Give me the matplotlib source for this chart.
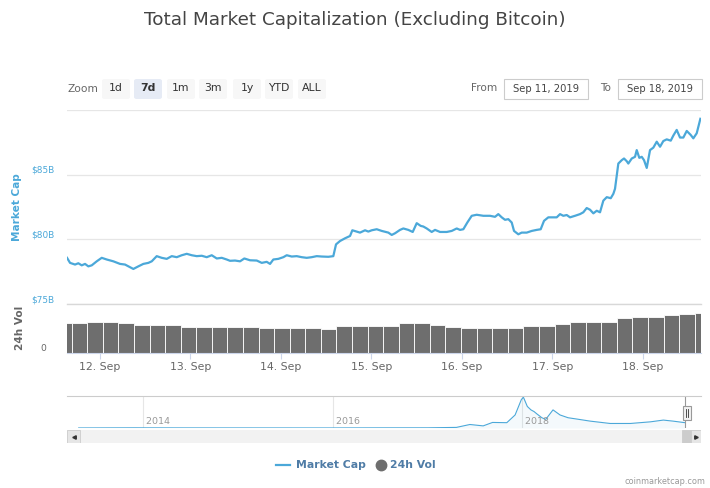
import numpy as np
import pandas as pd
import matplotlib
matplotlib.use('Agg')
import matplotlib.pyplot as plt
import matplotlib.dates as mdates
import matplotlib.transforms as mtransforms
from matplotlib.patches import Rectangle, FancyBboxPatch
from matplotlib.lines import Line2D

# ---- data -----------------------------------------------------------------
# market cap (excl. BTC), hours after 2019-09-12 00:00, in $B
cap_hours = [-8.76, -7.96, -6.63, -5.76, -4.86, -3.98, -3.10, -2.20, -0.88, 0.45,
             1.78, 3.53, 5.31, 6.63, 7.96, 8.84, 10.16, 11.49, 12.82, 13.72,
             15.04, 16.37, 17.70, 19.03, 20.35, 21.68, 23.01, 24.33, 25.66, 26.99,
             28.31, 29.64, 30.97, 32.29, 33.62, 34.49, 35.82, 37.15, 38.29, 39.80,
             41.58, 42.91, 44.23, 45.11, 45.98, 47.31, 48.64, 49.54, 50.87, 52.19,
             53.52, 54.85, 56.17, 57.50, 58.83, 60.58, 61.90, 62.62, 63.68, 65.01,
             66.34, 66.95, 68.11, 68.99, 70.32, 71.19, 72.09, 73.42, 74.75, 76.50,
             77.40, 78.28, 79.60, 80.48, 81.80, 82.97, 84.03, 85.09, 85.79, 86.69,
             88.01, 88.89, 90.22, 91.99, 93.32, 94.65, 95.52, 96.40, 97.46, 98.63,
             99.95, 101.71, 103.48, 104.81, 105.68, 106.59, 107.46, 108.34, 109.24, 109.85,
             110.99, 111.89, 113.22, 114.55, 115.87, 116.93, 117.81, 118.95, 120.28, 121.18,
             122.06, 122.93, 123.84, 124.71, 126.04, 127.36, 128.24, 129.14, 130.02, 130.90,
             131.80, 132.67, 133.55, 134.46, 135.52, 136.21, 136.65, 137.53, 138.43, 139.04,
             139.76, 140.18, 141.09, 141.96, 142.41, 143.10, 143.74, 144.35, 145.07, 145.94,
             146.82, 147.72, 148.60, 149.47, 150.37, 151.44, 152.12, 153.02, 153.90, 154.78,
             155.68, 156.74, 157.43, 158.33, 159.30]
cap_values = [78.57, 78.18, 78.05, 78.15, 77.99, 78.10, 77.91, 77.99, 78.30, 78.57,
              78.44, 78.30, 78.10, 78.05, 77.84, 77.71, 77.91, 78.10, 78.18, 78.30,
              78.70, 78.57, 78.49, 78.70, 78.62, 78.77, 78.88, 78.77, 78.70, 78.73,
              78.62, 78.77, 78.52, 78.57, 78.44, 78.34, 78.36, 78.30, 78.52, 78.38,
              78.36, 78.18, 78.26, 78.10, 78.44, 78.49, 78.62, 78.77, 78.67, 78.70,
              78.62, 78.57, 78.62, 78.70, 78.67, 78.65, 78.70, 79.61, 79.87, 80.08,
              80.26, 80.70, 80.60, 80.52, 80.70, 80.60, 80.70, 80.78, 80.65, 80.52,
              80.34, 80.47, 80.73, 80.84, 80.73, 80.57, 81.25, 81.04, 80.99, 80.84,
              80.57, 80.73, 80.57, 80.57, 80.65, 80.84, 80.73, 80.78, 81.30, 81.82,
              81.90, 81.82, 81.82, 81.74, 81.95, 81.70, 81.51, 81.56, 81.30, 80.65,
              80.39, 80.52, 80.52, 80.65, 80.73, 80.78, 81.43, 81.70, 81.70, 81.70,
              81.95, 81.82, 81.88, 81.70, 81.82, 81.95, 82.09, 82.42, 82.29, 82.01,
              82.21, 82.09, 82.99, 83.26, 83.18, 83.52, 83.91, 85.86, 86.12, 86.25,
              86.04, 85.86, 86.25, 86.38, 86.90, 86.30, 86.38, 86.12, 85.52, 86.90,
              87.09, 87.55, 87.16, 87.60, 87.73, 87.63, 88.02, 88.46, 87.87, 87.87,
              88.38, 88.07, 87.81, 88.20, 89.32]

# 24h volume, grouped bars, in $B
vol_start = pd.date_range('2019-09-11 12:20', periods=42, freq='248min')
vol_values = [49.5, 49.5, 51.1, 51.1, 49.5, 45.7, 45.7, 45.7, 42.9, 42.9,
              42.9, 42.9, 42.4, 41.3, 41.3, 41.3, 41.3, 39.2, 44.1, 44.6,
              44.6, 44.6, 48.5, 49.5, 45.7, 42.9, 41.3, 41.3, 41.3, 41.3,
              44.6, 44.6, 47.3, 51.1, 51.1, 51.1, 56.7, 58.3, 59.3, 62.0,
              63.2, 64.8]

# navigator: full-history market cap (excl. BTC), $B
nav_dates = ['2013-04-28', '2013-12-01', '2014-01-15', '2014-06-01', '2015-01-01',
             '2016-01-01', '2016-07-01', '2017-01-01', '2017-04-22', '2017-06-13',
             '2017-08-03', '2017-09-08', '2017-11-02', '2017-12-04', '2017-12-28',
             '2018-01-05', '2018-01-20', '2018-02-03', '2018-02-15', '2018-02-26',
             '2018-03-17', '2018-04-01', '2018-04-29', '2018-05-26', '2018-06-26',
             '2018-07-30', '2018-09-19', '2018-12-05', '2019-02-21', '2019-05-09',
             '2019-06-28', '2019-08-04', '2019-09-18']
nav_values = [1.0, 3.0, 2.5, 1.8, 1.5,
              1.0, 2.5, 3.0, 10.0, 58.0,
              35.0, 92.0, 88.0, 216.0, 470.0,
              510.0, 357.0, 300.0, 272.0, 233.0,
              170.0, 143.0, 300.0, 216.0, 170.0,
              148.0, 114.0, 75.0, 75.0, 102.0,
              131.0, 114.0, 89.0]

zoom_buttons = ['1d', '7d', '1m', '3m', '1y', 'YTD', 'ALL']
date_from, date_to = 'Sep 11, 2019', 'Sep 18, 2019'

# ---- style ----------------------------------------------------------------
LINE = '#4ba8d9'
VOLC = '#6e6e6e'
GRID = '#e6e6e6'
plt.rcParams['font.family'] = ['DejaVu Sans']

W, H = 710, 488


def fbox(x0, y0, x1, y1):
    # pixel box (top-left origin) -> figure fraction rect
    return [x0 / W, 1 - y1 / H, (x1 - x0) / W, (y1 - y0) / H]


def fx(x):
    return x / W


def fy(y):
    return 1 - y / H


fig = plt.figure(figsize=(W / 100, H / 100), dpi=100)

base = pd.Timestamp('2019-09-12')
t_cap = base + pd.to_timedelta(cap_hours, unit='h')
xlim = (pd.Timestamp('2019-09-11 15:14'), pd.Timestamp('2019-09-18 15:28'))

# ---- market cap panel -----------------------------------------------------
ax = fig.add_axes(fbox(67, 110, 701, 304))
ax.plot(t_cap, cap_values, color=LINE, lw=1.6, solid_joinstyle='round')
ax.set_xlim(*xlim)
ax.set_ylim(75, 90)
ax.set_yticks([75, 80, 85, 90])
ax.set_yticklabels(['$75B', '$80B', '$85B', ''])
ax.grid(axis='y', color=GRID, lw=0.9)
ax.axhline(75, color='#d8d8d8', lw=1.0, clip_on=False, zorder=0)
ax.set_axisbelow(True)
ax.tick_params(axis='y', length=0, pad=9, labelsize=6.4, labelcolor=LINE)
for lab in ax.get_yticklabels():
    lab.set_verticalalignment('bottom')
ax.tick_params(axis='x', bottom=False, labelbottom=False)
for s in ax.spines.values():
    s.set_visible(False)

# ---- volume panel ---------------------------------------------------------
axv = fig.add_axes(fbox(67, 304, 701, 353))
axv.bar(vol_start, vol_values, width=248 / 1440, align='edge', color=VOLC,
        edgecolor='white', linewidth=0.6)
axv.set_xlim(*xlim)
axv.set_ylim(0, 80)
axv.set_yticks([0])
axv.set_yticklabels(['0'])
axv.tick_params(axis='y', length=0, pad=15, labelsize=6.6, labelcolor='#666666')
for lab in axv.get_yticklabels():
    lab.set_verticalalignment('bottom')
axv.xaxis.set_major_locator(mdates.DayLocator())
axv.xaxis.set_major_formatter(mdates.DateFormatter('%d. %b'))
axv.tick_params(axis='x', length=4, width=0.8, color='#ccd6eb', pad=2.5,
                labelsize=7.8, labelcolor='#666666')
for s in ['top', 'left', 'right']:
    axv.spines[s].set_visible(False)
axv.spines['bottom'].set_color('#ccd6eb')
axv.patch.set_alpha(0)

fig.text(fx(17), fy(207), 'Market Cap', rotation=90, ha='center', va='center',
         color=LINE, fontsize=7.6, fontweight='bold')
fig.text(fx(20), fy(328), '24h Vol', rotation=90, ha='center', va='center',
         color='#666666', fontsize=7.6, fontweight='bold')

# ---- navigator ------------------------------------------------------------
axn = fig.add_axes(fbox(67, 396, 701, 428))
nd = pd.to_datetime(nav_dates)
axn.fill_between(nd, nav_values, 0, color=LINE, alpha=0.06, lw=0)
axn.plot(nd, nav_values, color=LINE, lw=0.8)
axn.set_xlim(pd.Timestamp('2013-03-14'), pd.Timestamp('2019-11-20'))
axn.set_ylim(0, 530)
axn.set_xticks([])
axn.set_yticks([])
for s in ['left', 'right', 'bottom']:
    axn.spines[s].set_visible(False)
axn.spines['top'].set_color('#cccccc')
blend = mtransforms.blended_transform_factory(axn.transData, axn.transAxes)
for yr in ['2014', '2016', '2018']:
    d = pd.Timestamp(f'{yr}-01-01')
    axn.axvline(d, color=GRID, lw=0.8, zorder=0)
    axn.text(d, 0.05, ' ' + yr, transform=blend, ha='left', va='bottom',
             fontsize=6.8, color='#999999')
axn.axvline(pd.Timestamp('2019-09-18'), color='#999999', lw=0.8)
fig.add_artist(Rectangle((fx(683), fy(420)), 8 / W, 14 / H, transform=fig.transFigure,
                         facecolor='#f2f2f2', edgecolor='#999999', lw=0.8))
for xx in (686, 688):
    fig.add_artist(Line2D([fx(xx), fx(xx)], [fy(409), fy(417)], transform=fig.transFigure,
                          color='#333333', lw=0.6))

# ---- scrollbar ------------------------------------------------------------
axs = fig.add_axes(fbox(67, 430, 701, 443))
axs.set_xlim(67, 701)
axs.set_ylim(0, 1)
axs.axis('off')
axs.add_patch(Rectangle((67, 0), 634, 1, facecolor='#f2f2f2', edgecolor='#f2f2f2'))
axs.add_patch(Rectangle((67, 0), 13, 1, facecolor='#e6e6e6', edgecolor='#cccccc', lw=0.6))
axs.add_patch(Rectangle((682, 0), 9, 1, facecolor='#cccccc', edgecolor='#cccccc', lw=0.6))
axs.add_patch(Rectangle((691, 0), 10, 1, facecolor='#e6e6e6', edgecolor='#cccccc', lw=0.6))
axs.plot([73.5], [0.5], marker='<', ms=2.5, color='#333333')
axs.plot([696], [0.5], marker='>', ms=2.5, color='#333333')

# ---- title, range selector, inputs ----------------------------------------
fig.text(fx(355), fy(20), 'Total Market Capitalization (Excluding Bitcoin)',
         ha='center', va='center', fontsize=13.2, color='#444444')

fig.text(fx(68), fy(89), 'Zoom', ha='left', va='center', fontsize=7.7, color='#666666')
btn_x = [102, 134, 167, 199, 233, 265, 298]
for label, x0 in zip(zoom_buttons, btn_x):
    sel = label == '7d'
    fig.add_artist(FancyBboxPatch((fx(x0), fy(99)), 28 / W, 20 / H,
                                  boxstyle='round,pad=0,rounding_size=0.004',
                                  transform=fig.transFigure, lw=0,
                                  facecolor='#e6ebf5' if sel else '#f7f7f7'))
    fig.text(fx(x0 + 14), fy(88), label, ha='center', va='center', fontsize=7.8,
             color='#333333', fontweight='bold' if sel else 'normal')

fig.text(fx(497), fy(88), 'From', ha='right', va='center', fontsize=7.6, color='#666666')
fig.text(fx(611), fy(88), 'To', ha='right', va='center', fontsize=7.6, color='#666666')
for x0, x1, txt in [(504, 588, date_from), (618, 702, date_to)]:
    fig.add_artist(Rectangle((fx(x0), fy(99)), (x1 - x0) / W, 20 / H, transform=fig.transFigure,
                             facecolor='white', edgecolor='#cccccc', lw=0.8))
    fig.text(fx((x0 + x1) / 2), fy(88.5), txt, ha='center', va='center',
             fontsize=7.2, color='#444444')

# ---- legend and credit ----------------------------------------------------
LEG = '#4f7ca6'
fig.add_artist(Line2D([fx(276), fx(290)], [fy(465), fy(465)], transform=fig.transFigure,
                      color=LINE, lw=1.6))
fig.text(fx(296), fy(465), 'Market Cap', ha='left', va='center', fontsize=7.8,
         fontweight='bold', color=LEG)
fig.add_artist(Line2D([fx(381)], [fy(465)], transform=fig.transFigure, marker='o',
                      ms=7.5, color=VOLC, lw=0))
fig.text(fx(390), fy(465), '24h Vol', ha='left', va='center', fontsize=7.8,
         fontweight='bold', color=LEG)
fig.text(fx(705), fy(481), 'coinmarketcap.com', ha='right', va='center',
         fontsize=5.9, color='#999999')

fig.savefig('out.png', dpi=100)
plt.close(fig)
